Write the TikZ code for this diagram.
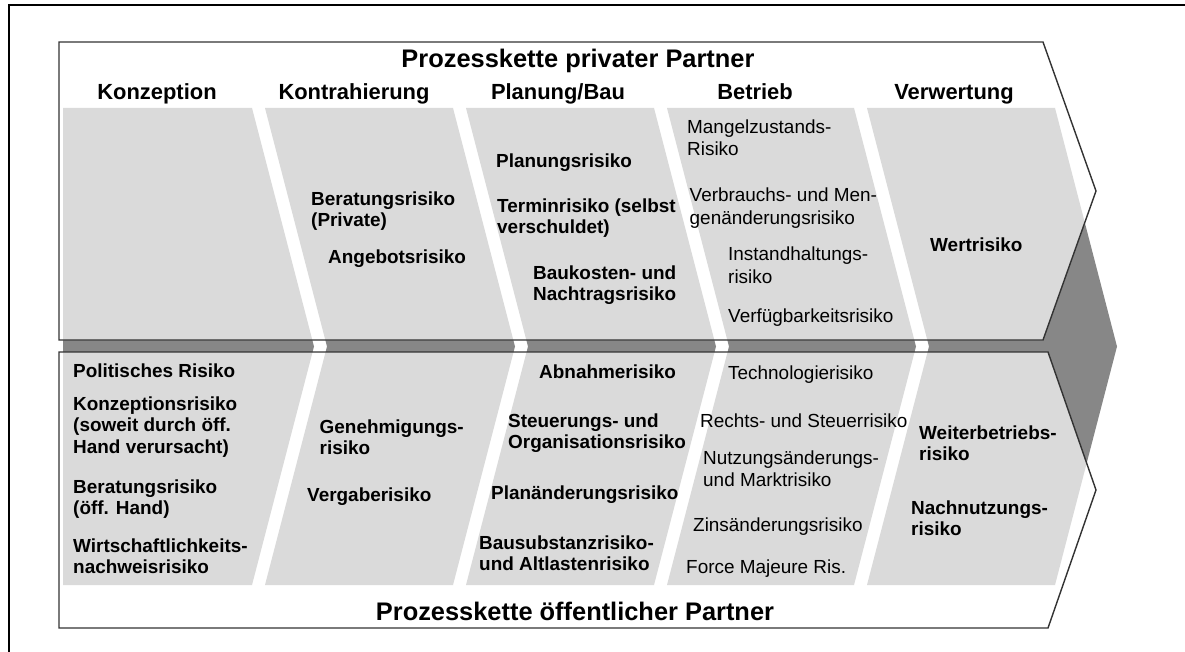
\documentclass[tikz,border=0pt]{standalone}
\usepackage{fontspec}
\setmainfont{Liberation Sans}
\definecolor{stripelight}{gray}{0.855}
\definecolor{stripedark}{gray}{0.53}
\definecolor{chevline}{gray}{0.2}
% the five slanted phase stripes, peaking at the middle line
\newcommand\phasestripes[1]{%
  \fill[#1] (63,108) -- (252,108) -- (314,346.5) -- (252,585) -- (63,585) -- cycle;
  \foreach \l/\r in {265/453, 466/654, 667/854, 867/1055}
    \fill[#1] (\l,108) -- (\r,108) -- ({\r+62},346.5) -- (\r,585) -- (\l,585) -- ({\l+62},346.5) -- cycle;
}
\begin{document}
% multi-line nodes are placed by the baseline of their last line
\begin{tikzpicture}[x=1bp,y=-1bp,
  chev/.style={draw=chevline,line width=1.4bp,line join=miter},
  ttl/.style={font=\fontsize{25.5}{28}\selectfont\bfseries,anchor=base,inner sep=0},
  hdr/.style={font=\fontsize{22}{26}\selectfont\bfseries,anchor=base,inner sep=0},
  rb/.style={font=\fontsize{19}{21.5}\selectfont\bfseries,anchor=base west,align=left,inner sep=0},
  rr/.style={font=\fontsize{19}{22.6}\selectfont,anchor=base west,align=left,inner sep=0},
]
\path[use as bounding box] (0,0) rectangle (1185,652);
\clip (0,0) rectangle (1185,652);

% outer frame (runs past the right and bottom edges)
\draw[line width=2bp] (9,5) rectangle (1260,720);

% stripes seen outside the chevrons
\phasestripes{stripedark}

% chevron bodies
\fill[white] (59,42) -- (1043,42) -- (1096,191) -- (1043,340) -- (59,340) -- cycle;
\fill[white] (59,352) -- (1048,352) -- (1096,490) -- (1048,628) -- (59,628) -- cycle;
\begin{scope}
  \clip (59,42) -- (1043,42) -- (1096,191) -- (1043,340) -- (59,340) -- cycle;
  \phasestripes{stripelight}
\end{scope}
\begin{scope}
  \clip (59,352) -- (1048,352) -- (1096,490) -- (1048,628) -- (59,628) -- cycle;
  \phasestripes{stripelight}
\end{scope}
\draw[chev] (59,42) -- (1043,42) -- (1096,191) -- (1043,340) -- (59,340) -- cycle;
\draw[chev] (59,352) -- (1048,352) -- (1096,490) -- (1048,628) -- (59,628) -- cycle;

% titles and phase headers
\node[ttl] (tpriv) at (578,68) {Prozesskette privater Partner};
\node[ttl] (toeff) at (575,620) {Prozesskette öffentlicher Partner};
\node[hdr] (hkonz) at (157,100) {Konzeption};
\node[hdr] (hkontr) at (354,100) {Kontrahierung};
\node[hdr] (hplan) at (558,100) {Planung/Bau};
\node[hdr] (hbetr) at (755,100) {Betrieb};
\node[hdr] (hverw) at (954,100) {Verwertung};

% risks of the private partner
\node[rb] (pberat) at (311,226.5) {Beratungsrisiko\\(Private)};
\node[rb] (pangeb) at (328,263) {Angebotsrisiko};
\node[rb] (pplan) at (496,168) {Planungsrisiko};
\node[rb] (ptermin) at (497,233.5) {Terminrisiko (selbst\\verschuldet)};
\node[rb] (pbauk) at (533,300.5) {Baukosten- und\\Nachtragsrisiko};
\node[rr] (pmangel) at (687,156) {Mangelzustands-\\Risiko};
\node[rr] (pverbr) at (689.5,224.5) {Verbrauchs- und Men-\\genänderungsrisiko};
\node[rr] (pinst) at (728,283) {Instandhaltungs-\\risiko};
\node[rr] (pverf) at (728,322) {Verfügbarkeitsrisiko};
\node[rb] (pwert) at (930,251) {Wertrisiko};

% risks of the public partner
\node[rb] (opolit) at (73,377) {Politisches Risiko};
\node[rb] (okonz) at (73,453) {Konzeptionsrisiko\\(soweit durch öff.\\Hand verursacht)};
\node[rb] (oberat) at (73,514.5) {Beratungsrisiko\\(öff. Hand)};
\node[rb] (owirt) at (73,573.5) {Wirtschaftlichkeits-\\nachweisrisiko};
\node[rb] (ogen) at (319.5,454.5) {Genehmigungs-\\risiko};
\node[rb] (overg) at (307,501) {Vergaberisiko};
\node[rb] (oabn) at (539,378) {Abnahmerisiko};
\node[rb] (osteu) at (508,448.5) {Steuerungs- und\\Organisationsrisiko};
\node[rb] (oplaen) at (491,499) {Planänderungsrisiko};
\node[rb] (obaus) at (479,570.5) {Bausubstanzrisiko-\\und Altlastenrisiko};
\node[rr] (otech) at (728,379) {Technologierisiko};
\node[rr] (orecht) at (700,427) {Rechts- und Steuerrisiko};
\node[rr] (onutz) at (703,486.6) {Nutzungsänderungs-\\und Marktrisiko};
\node[rr] (ozins) at (693,531) {Zinsänderungsrisiko};
\node[rr] (oforce) at (686,573) {Force Majeure Ris.};
\node[rb] (oweit) at (919,460.5) {Weiterbetriebs-\\risiko};
\node[rb] (onach) at (911,535.5) {Nachnutzungs-\\risiko};
\end{tikzpicture}
\end{document}
